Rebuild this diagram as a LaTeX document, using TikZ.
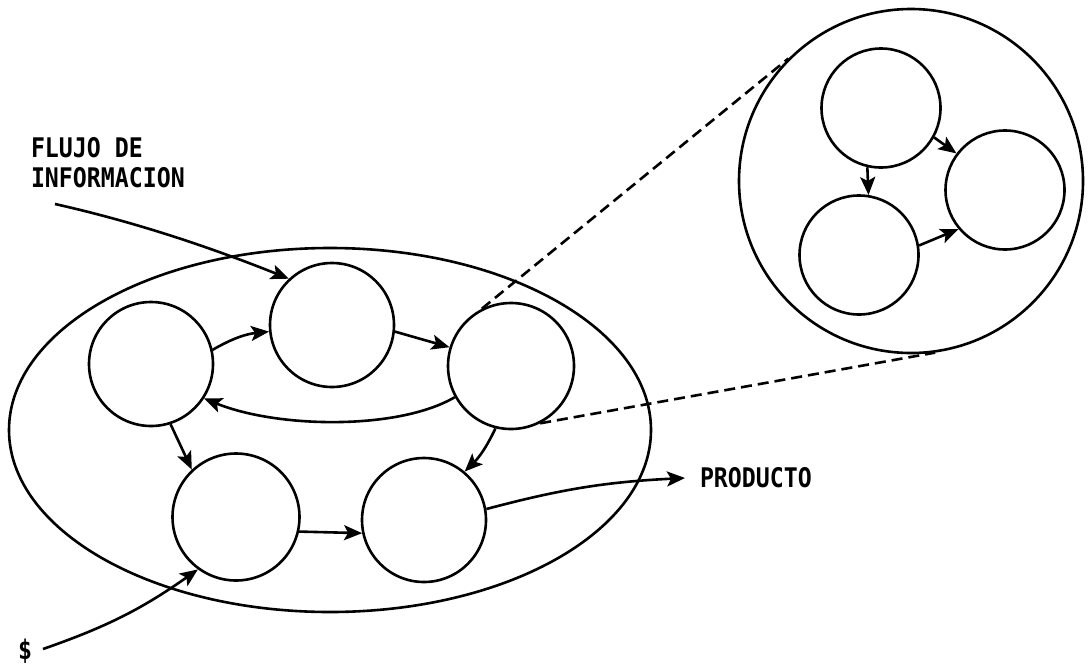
\documentclass[tikz,border=0pt]{standalone}
\usepackage{fontspec}
\usetikzlibrary{arrows.meta,shapes.geometric}
\newfontfamily\labelfont[FakeStretch=0.86]{DejaVu Sans Mono}

\begin{document}
\begin{tikzpicture}[x=1pt,y=-1pt,line width=2.6pt,
  unit/.style={draw, circle, inner sep=0pt, minimum size=124pt},
  subunit/.style={draw, circle, inner sep=0pt, minimum size=119pt},
  flow/.style={-{Stealth[length=18pt,width=15pt,inset=4pt]}},
  zoomline/.style={dash pattern=on 11pt off 6pt},
  lbl/.style={font=\labelfont\bfseries\fontsize{27}{30}\selectfont, inner sep=0pt, outer sep=0pt, text=black}]
\useasboundingbox (0,0) rectangle (1089,667);

% the system as a whole
\node[draw, ellipse, inner sep=0pt, minimum width=642pt, minimum height=364pt] (system) at (330,430) {};

% its units
\node[unit] (c1) at (151,364) {};
\node[unit] (c2) at (332,325) {};
\node[unit, minimum size=126pt] (c3) at (511,366) {};
\node[unit, minimum size=127pt] (c4) at (236,517) {};
\node[unit] (c5) at (424,520) {};

% enlarged view of one unit
\node[draw, circle, inner sep=0pt, minimum size=344pt] (detail) at (911,181) {};
\node[subunit] (d1) at (881,108) {};
\node[subunit] (d2) at (1005,190) {};
\node[subunit] (d3) at (859,255) {};

% labels
\node[lbl, anchor=north west, align=left] (flujo) at (31,137) {FLUJO DE\\INFORMACION};
\node[lbl, anchor=west, inner xsep=15pt] (producto) at (685,478) {PRODUCTO};
\node[lbl] (dinero) at (25,651) {\$};
\coordinate (src) at (55,204);
\coordinate (money) at (43,649);

% flows inside the system
\draw[flow] (src) .. controls +(80,18) and +(-80,-32) .. (c2.133);
\draw[flow] (c1.13) to[bend left=12] (c2.186);
\draw[flow] (c2.-6) -- (c3.163);
\draw[flow] (c3.209) .. controls +(-56,33) and +(74,30) .. (c1.-33);
\draw[flow] (c1.-72) -- (c4.133);
\draw[flow] (c3.-104) to[bend left=10] (c5.50);
\draw[flow] (c4.-13) -- (c5.192);
\draw[flow] (c5.10) to[bend left=6] (producto.west);
\draw[flow] (money) to[bend right=8] (c4.-126);

% zoom lines
\draw[zoomline] (c3.117) -- (detail.135);
\draw[zoomline] (c3.-63) -- (detail.-82);

% flows inside the enlarged unit
\draw[flow] (d1.-103) -- (d3.81);
\draw[flow] (d1.-29) -- (d2.143);
\draw[flow] (d3.9) -- (d2.-140);
\end{tikzpicture}
\end{document}
